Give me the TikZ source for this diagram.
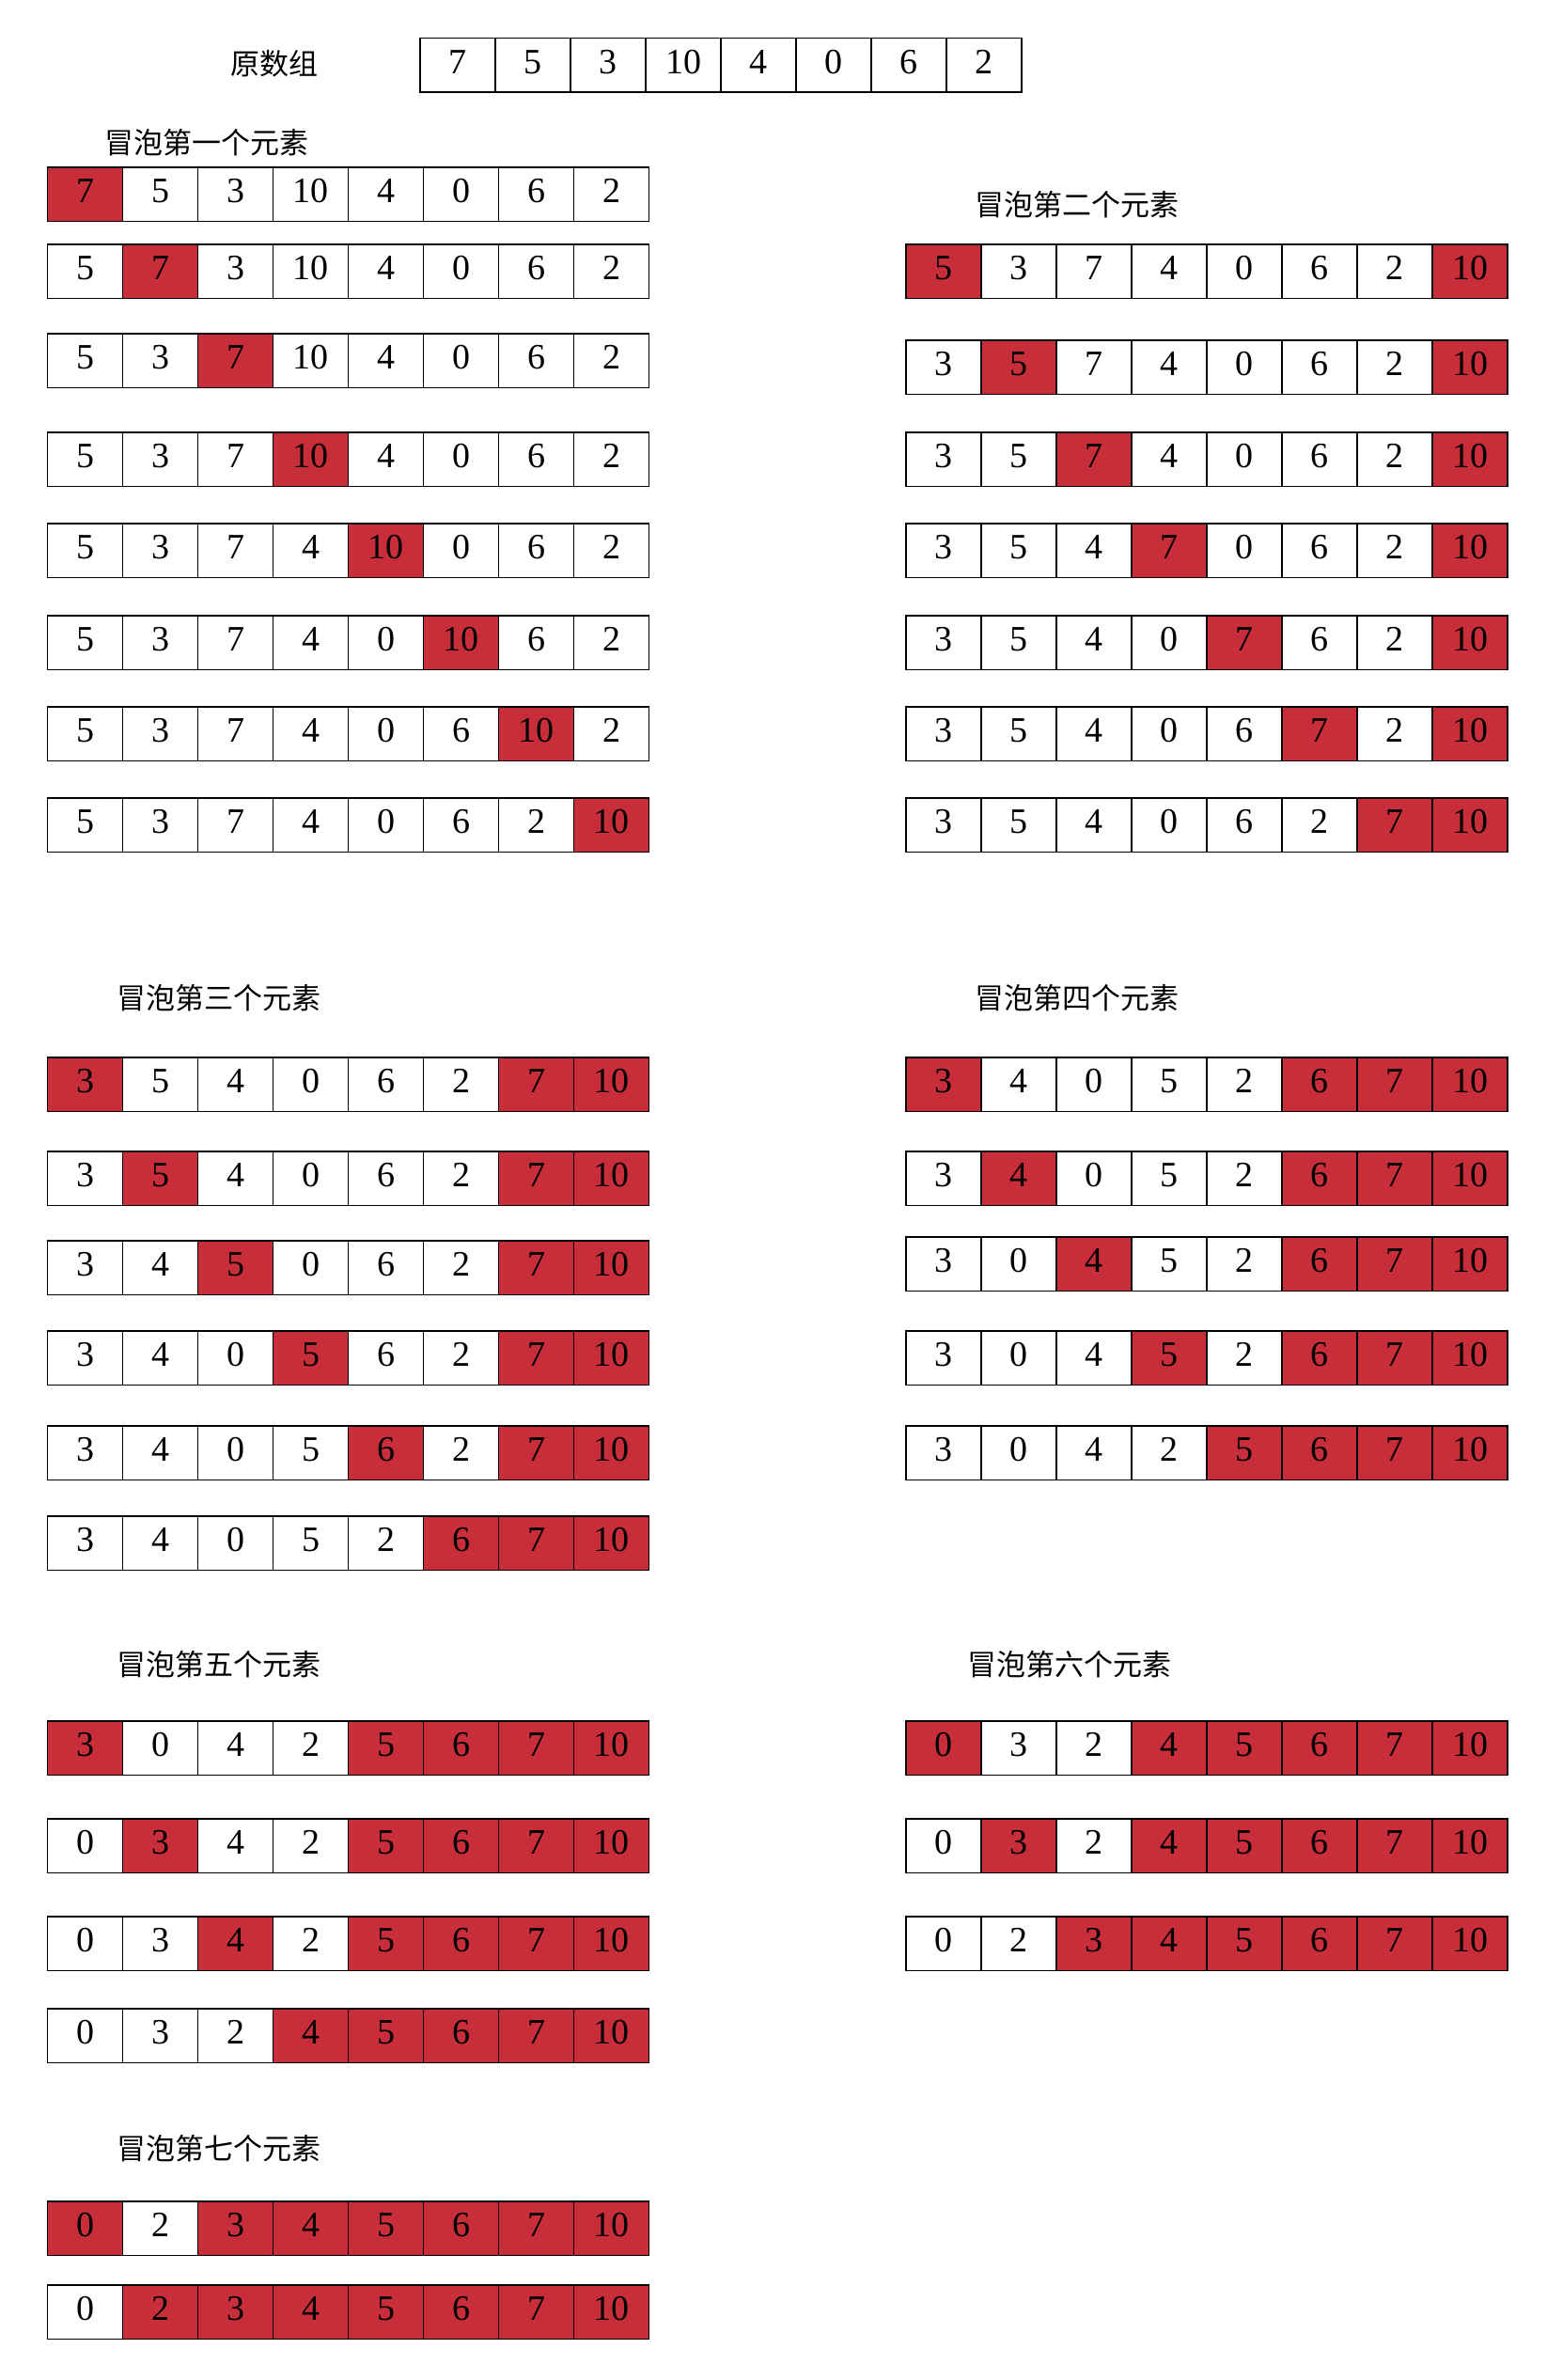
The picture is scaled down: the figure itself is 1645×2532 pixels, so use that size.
\documentclass[tikz,border=0pt]{standalone}
\usepackage{fontspec}
\setmainfont{Liberation Serif}
\newfontfamily\cjk{Noto Sans CJK SC}
\definecolor{R}{RGB}{200,45,58}
\colorlet{W}{white}
\tikzset{
  cell/.style={draw=black, line width=0.6pt, minimum width=40pt, minimum height=28.75pt,
    inner sep=0pt, font=\fontsize{19}{19}\selectfont, text=black},
  ttl/.style={inner sep=0pt, font=\fontsize{15.5}{15.5}\selectfont\cjk, text=black}
}
% #1 name, #2 x left, #3 y top, #4 list value/colour
\newcommand{\arr}[4]{%
  \foreach \v/\c [count=\i] in {#4} {
    \node[cell, fill=\c] (#1-\i) at ({#2+(\i-0.5)*80},{#3+28.75}) {\raisebox{3.6pt}{\v}};
  }}
\begin{document}
\begin{tikzpicture}[x=0.5pt,y=-0.5pt]
\fill[white] (0,0) rectangle (1645,2532);
\useasboundingbox (0,0) rectangle (1645,2532);

\node[ttl] (t0) at (292,68) {原数组};
\arr{a0}{447}{40.5}{7/W,5/W,3/W,10/W,4/W,0/W,6/W,2/W}

% group 1
\node[ttl] (t1) at (220,152) {冒泡第一个元素};
\arr{g1r1}{50.5}{178}{7/R,5/W,3/W,10/W,4/W,0/W,6/W,2/W}
\arr{g1r2}{50.5}{260}{5/W,7/R,3/W,10/W,4/W,0/W,6/W,2/W}
\arr{g1r3}{50.5}{355}{5/W,3/W,7/R,10/W,4/W,0/W,6/W,2/W}
\arr{g1r4}{50.5}{460}{5/W,3/W,7/W,10/R,4/W,0/W,6/W,2/W}
\arr{g1r5}{50.5}{557}{5/W,3/W,7/W,4/W,10/R,0/W,6/W,2/W}
\arr{g1r6}{50.5}{655}{5/W,3/W,7/W,4/W,0/W,10/R,6/W,2/W}
\arr{g1r7}{50.5}{752}{5/W,3/W,7/W,4/W,0/W,6/W,10/R,2/W}
\arr{g1r8}{50.5}{849}{5/W,3/W,7/W,4/W,0/W,6/W,2/W,10/R}

% group 2
\node[ttl] (t2) at (1146,218) {冒泡第二个元素};
\arr{g2r1}{964}{260}{5/R,3/W,7/W,4/W,0/W,6/W,2/W,10/R}
\arr{g2r2}{964}{362}{3/W,5/R,7/W,4/W,0/W,6/W,2/W,10/R}
\arr{g2r3}{964}{460}{3/W,5/W,7/R,4/W,0/W,6/W,2/W,10/R}
\arr{g2r4}{964}{557}{3/W,5/W,4/W,7/R,0/W,6/W,2/W,10/R}
\arr{g2r5}{964}{655}{3/W,5/W,4/W,0/W,7/R,6/W,2/W,10/R}
\arr{g2r6}{964}{752}{3/W,5/W,4/W,0/W,6/W,7/R,2/W,10/R}
\arr{g2r7}{964}{849}{3/W,5/W,4/W,0/W,6/W,2/W,7/R,10/R}

% group 3
\node[ttl] (t3) at (232.5,1062) {冒泡第三个元素};
\arr{g3r1}{50.5}{1125}{3/R,5/W,4/W,0/W,6/W,2/W,7/R,10/R}
\arr{g3r2}{50.5}{1225}{3/W,5/R,4/W,0/W,6/W,2/W,7/R,10/R}
\arr{g3r3}{50.5}{1320}{3/W,4/W,5/R,0/W,6/W,2/W,7/R,10/R}
\arr{g3r4}{50.5}{1416}{3/W,4/W,0/W,5/R,6/W,2/W,7/R,10/R}
\arr{g3r5}{50.5}{1517}{3/W,4/W,0/W,5/W,6/R,2/W,7/R,10/R}
\arr{g3r6}{50.5}{1613}{3/W,4/W,0/W,5/W,2/W,6/R,7/R,10/R}

% group 4
\node[ttl] (t4) at (1146,1062) {冒泡第四个元素};
\arr{g4r1}{964}{1125}{3/R,4/W,0/W,5/W,2/W,6/R,7/R,10/R}
\arr{g4r2}{964}{1225}{3/W,4/R,0/W,5/W,2/W,6/R,7/R,10/R}
\arr{g4r3}{964}{1316}{3/W,0/W,4/R,5/W,2/W,6/R,7/R,10/R}
\arr{g4r4}{964}{1416}{3/W,0/W,4/W,5/R,2/W,6/R,7/R,10/R}
\arr{g4r5}{964}{1517}{3/W,0/W,4/W,2/W,5/R,6/R,7/R,10/R}

% group 5
\node[ttl] (t5) at (232.5,1771) {冒泡第五个元素};
\arr{g5r1}{50.5}{1831}{3/R,0/W,4/W,2/W,5/R,6/R,7/R,10/R}
\arr{g5r2}{50.5}{1935}{0/W,3/R,4/W,2/W,5/R,6/R,7/R,10/R}
\arr{g5r3}{50.5}{2039}{0/W,3/W,4/R,2/W,5/R,6/R,7/R,10/R}
\arr{g5r4}{50.5}{2137}{0/W,3/W,2/W,4/R,5/R,6/R,7/R,10/R}

% group 6
\node[ttl] (t6) at (1138,1771) {冒泡第六个元素};
\arr{g6r1}{964}{1831}{0/R,3/W,2/W,4/R,5/R,6/R,7/R,10/R}
\arr{g6r2}{964}{1935}{0/W,3/R,2/W,4/R,5/R,6/R,7/R,10/R}
\arr{g6r3}{964}{2039}{0/W,2/W,3/R,4/R,5/R,6/R,7/R,10/R}

% group 7
\node[ttl] (t7) at (232.5,2286) {冒泡第七个元素};
\arr{g7r1}{50.5}{2342}{0/R,2/W,3/R,4/R,5/R,6/R,7/R,10/R}
\arr{g7r2}{50.5}{2431}{0/W,2/R,3/R,4/R,5/R,6/R,7/R,10/R}
\end{tikzpicture}
\end{document}
